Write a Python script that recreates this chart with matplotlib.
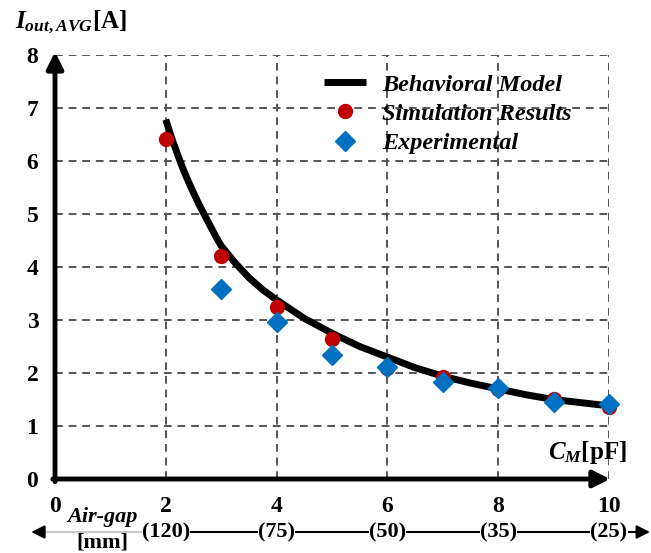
"""
Average output current vs coupling capacitance
"""
import numpy as np
import matplotlib.pyplot as plt

plt.rcParams['font.family'] = 'Liberation Serif'
plt.rcParams['mathtext.fontset'] = 'custom'
plt.rcParams['mathtext.it'] = 'Liberation Serif:italic:bold'
plt.rcParams['mathtext.rm'] = 'Liberation Serif:bold'

# behavioral model curve
model_cm = [2, 2.1, 2.2, 2.3, 2.4, 2.5, 2.6, 2.7, 2.8, 2.9, 3, 3.25, 3.5, 3.75, 4,
            4.5, 5, 5.5, 6, 6.5, 7, 7.5, 8, 8.5, 9, 9.5, 10]
model_iout = [6.78, 6.45, 6.16, 5.88, 5.63, 5.4, 5.18, 4.98, 4.78, 4.58, 4.4, 4.08, 3.8, 3.57, 3.38,
              3.03, 2.75, 2.5, 2.3, 2.1, 1.94, 1.81, 1.7, 1.59, 1.5, 1.44, 1.38]

sim_cm = [2, 3, 4, 5, 6, 7, 8, 9, 10]
sim_iout = [6.42, 4.21, 3.25, 2.64, 2.1, 1.92, 1.7, 1.51, 1.36]

exp_cm = [3, 4, 5, 6, 7, 8, 9, 10]
exp_iout = [3.58, 2.97, 2.34, 2.11, 1.83, 1.72, 1.46, 1.42]

xticks = [0, 2, 4, 6, 8, 10]
airgap_cm = [2, 4, 6, 8, 10]
airgap_labels = ["(120)", "(75)", "(50)", "(35)", "(25)"]

fig = plt.figure(figsize=(6.51, 5.53), dpi=100)
ax = fig.add_axes([0.0845, 0.1338, 0.851, 0.7667])

ax.plot(model_cm, model_iout, color='k', lw=5, solid_capstyle='butt', solid_joinstyle='round',
        label='Behavioral Model', zorder=3)
ax.plot(sim_cm, sim_iout, 'o', color='#C00000', ms=10, label='Simulation Results', clip_on=False, zorder=4)
ax.plot(exp_cm, exp_iout, 'D', color='#0070C0', ms=10, label='Experimental', clip_on=False, zorder=5)

ax.set_xlim(0, 10)
ax.set_ylim(0, 8)
ax.set_xticks(xticks)
ax.set_yticks(range(0, 9))
ax.tick_params(length=0, labelsize=17)
ax.tick_params(axis='x', pad=12)
ax.tick_params(axis='y', pad=12)
for lab in ax.get_xticklabels() + ax.get_yticklabels():
    lab.set_fontweight('bold')
for s in ax.spines.values():
    s.set_visible(False)
ax.grid(True, ls=(0, (4, 3)), color='#555555', lw=1.4)

# axes with arrow heads
ax.annotate('', xy=(10.02, 0), xytext=(-0.04, 0), annotation_clip=False,
            arrowprops=dict(arrowstyle='-|>', lw=3.5, color='k', mutation_scale=25, shrinkA=0, shrinkB=0))
ax.annotate('', xy=(0, 8.06), xytext=(0, -0.05), annotation_clip=False,
            arrowprops=dict(arrowstyle='-|>', lw=3.5, color='k', mutation_scale=25, shrinkA=0, shrinkB=0))

# air-gap scale below
ax.plot([-0.3, 1.6], [-1.0, -1.0], color='#c8c8c8', lw=1.5, clip_on=False)
ax.annotate('', xy=(-0.43, -1.0), xytext=(-0.2, -1.0), annotation_clip=False,
            arrowprops=dict(arrowstyle='-|>', lw=1.5, color='k', mutation_scale=20, shrinkA=0, shrinkB=0))
ax.annotate('', xy=(10.74, -1.0), xytext=(1.6, -1.0), annotation_clip=False,
            arrowprops=dict(arrowstyle='-|>', lw=1.5, color='k', mutation_scale=20, shrinkA=0, shrinkB=0))
for x, t in zip(airgap_cm, airgap_labels):
    ax.text(x, -1.0, t, ha='center', va='center', fontsize=16, fontweight='bold',
            bbox=dict(facecolor='white', edgecolor='none', pad=0), clip_on=False)
ax.text(0.85, -0.72, 'Air-gap', ha='center', va='center', fontsize=16, fontweight='bold',
        style='italic', clip_on=False)
ax.text(0.85, -1.2, '[mm]', ha='center', va='center', fontsize=16, fontweight='bold', clip_on=False)

# axis titles
fig.text(15 / 651, 1 - 22 / 553, r'$I_{out,AVG}$[A]', fontsize=18, fontweight='bold', va='center', ha='left')
fig.text(627 / 651, 1 - 452 / 553, r'$C_M$[pF]', fontsize=18, fontweight='bold', va='center', ha='right')

ax.legend(loc='upper left', bbox_to_anchor=(0.463, 0.985), frameon=False, borderpad=0,
          handlelength=1.75, handletextpad=0.66, labelspacing=0.3, numpoints=1,
          prop=dict(family='Liberation Serif', weight='bold', style='italic', size=17.5))

fig.savefig('out.png', dpi=100)
